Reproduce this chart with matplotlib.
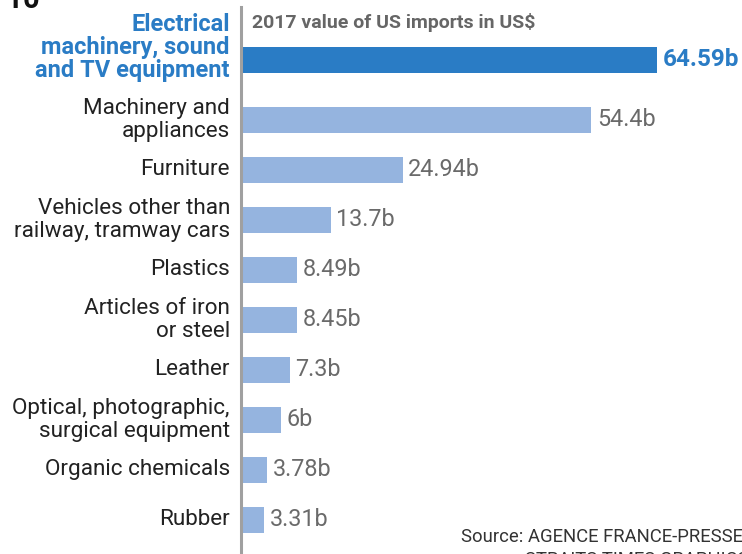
import matplotlib
matplotlib.use("Agg")
import matplotlib.pyplot as plt
import numpy as np

plt.rcParams['font.family'] = ['Roboto', 'DejaVu Sans']

categories = ["Electrical\nmachinery, sound\nand TV equipment",
              "Machinery and\nappliances",
              "Furniture",
              "Vehicles other than\nrailway, tramway cars",
              "Plastics",
              "Articles of iron\nor steel",
              "Leather",
              "Optical, photographic,\nsurgical equipment",
              "Organic chemicals",
              "Rubber"]
values = [64.59, 54.4, 24.94, 13.7, 8.49, 8.45, 7.3, 6, 3.78, 3.31]
value_labels = ["64.59b", "54.4b", "24.94b", "13.7b", "8.49b", "8.45b",
                "7.3b", "6b", "3.78b", "3.31b"]

W, H = 742, 554
fig = plt.figure(figsize=(W / 100, H / 100), dpi=100)
ax = fig.add_axes([241 / W, 0, 1 - 241 / W, 1])

blue = "#2a7cc5"
light = "#95b4df"
grey = "#6a6a6a"

pos = np.arange(len(values), dtype=float)
pos[1:] += 0.2
colors = [blue] + [light] * (len(values) - 1)
ax.barh(pos, values, height=0.52, color=colors, left=0.3)

ax.set_xlim(0, 78.2)
ax.set_ylim(9.88, -1.2)
for s in ["top", "right", "bottom"]:
    ax.spines[s].set_visible(False)
ax.spines["left"].set_color("#a0a0a0")
ax.spines["left"].set_linewidth(2.2)
ax.spines["left"].set_bounds(9.88, -1.05)
ax.set_xticks([])
ax.set_yticks([])

for i, (p, v, lab, cat) in enumerate(zip(pos, values, value_labels, categories)):
    first = i == 0
    ax.annotate(lab, xy=(v + 0.3, p), xytext=(4, 0), textcoords="offset points",
                ha="left", va="center",
                fontsize=17.5 if first else 16.8,
                color=blue if first else grey,
                fontweight="bold" if first else "normal")
    ax.annotate(cat, xy=(0, p), xycoords=("axes fraction", "data"),
                xytext=(-8, 9 if first else 0), textcoords="offset points",
                ha="right", va="center",
                fontsize=17 if first else 16.2,
                linespacing=0.98 if first else 1.12,
                color=blue if first else "#222222",
                fontweight="bold" if first else "normal")

fig.text(252 / W, 1 - 23 / H, "2017 value of US imports in US$",
         ha="left", va="center", fontsize=14, fontweight="bold",
         color="#666666", family=["Liberation Sans Narrow", "Roboto", "DejaVu Sans"])
fig.text(40 / W, 1 - 8 / H, "TOP 10", ha="right", va="baseline",
         fontsize=21, fontweight="bold", color="#111111")
fig.text(461 / W, 1 - 537 / H, "Source: AGENCE FRANCE-PRESSE",
         ha="left", va="center", fontsize=13.3, color="#333333")
fig.text(525 / W, 1 - 560 / H, "STRAITS TIMES GRAPHICS",
         ha="left", va="center", fontsize=13.3, color="#333333")

fig.savefig("out.png", dpi=100)
